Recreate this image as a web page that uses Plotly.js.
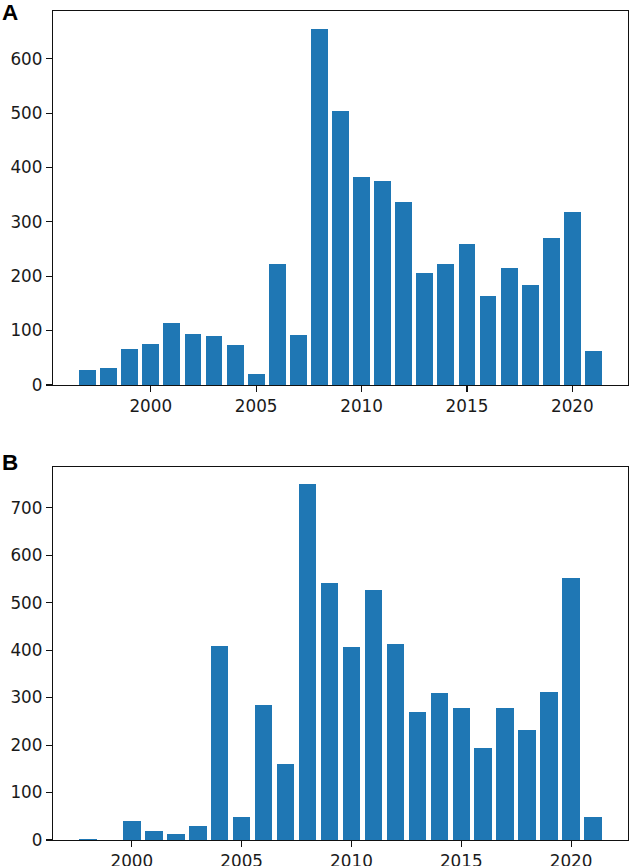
<!DOCTYPE html>
<html>
<head>
<meta charset="utf-8">
<script src="https://cdn.plot.ly/plotly-3.0.1.min.js"></script>
<style>
html,body{margin:0;padding:0;background:#fff;}
#chart{width:629px;height:866px;}
</style>
</head>
<body>
<div id="chart"></div>
<script>
// Panel A
const yearsA = [1997,1998,1999,2000,2001,2002,2003,2004,2005,2006,2007,2008,2009,2010,2011,2012,2013,2014,2015,2016,2017,2018,2019,2020,2021];
const valuesA = [28,32,66,75,114,93,90,74,20,222,92,655,504,383,375,336,206,222,260,164,216,183,271,318,62];
// Panel B
const yearsB = [1998,1999,2000,2001,2002,2003,2004,2005,2006,2007,2008,2009,2010,2011,2012,2013,2014,2015,2016,2017,2018,2019,2020,2021];
const valuesB = [2,0,40,18,12,30,408,48,284,161,749,541,407,526,412,270,309,279,193,278,231,311,552,49];
const xTicks = [2000,2005,2010,2015,2020];
const panelLabels = ["A","B"];

const barColor = '#1f77b4';
const tickFont = {family: 'DejaVu Sans', size: 16.8, color: '#1a1a1a'};

function xRange(yrs){
  const lo = Math.min(...yrs) - 0.4, hi = Math.max(...yrs) + 0.4;
  const m = (hi - lo) * 0.05;
  return [lo - m, hi + m];
}
function yRange(vals){ return [0, Math.max(...vals) * 1.05]; }

const axisCommon = {
  showgrid: false, zeroline: false, showline: true, mirror: true,
  linecolor: '#111', linewidth: 1.2, ticks: 'outside', ticklen: 6, tickwidth: 1.1,
  tickcolor: '#111', tickfont: tickFont
};

const data = [
  {type: 'bar', x: yearsA, y: valuesA, width: 0.8, marker: {color: barColor, line: {width: 0}}, xaxis: 'x', yaxis: 'y', hoverinfo: 'x+y'},
  {type: 'bar', x: yearsB, y: valuesB, width: 0.8, marker: {color: barColor, line: {width: 0}}, xaxis: 'x2', yaxis: 'y2', hoverinfo: 'x+y'}
];

const W = 575;
const layout = {
  width: 629, height: 866,
  margin: {l: 53, r: 1, t: 11, b: 26},
  paper_bgcolor: '#fff', plot_bgcolor: '#fff',
  showlegend: false,
  bargap: 0,
  xaxis: Object.assign({}, axisCommon, {domain: [0, 1], range: xRange(yearsA), tickvals: xTicks, anchor: 'y'}),
  yaxis: Object.assign({}, axisCommon, {domain: [0.5489, 1], range: yRange(valuesA), dtick: 100, anchor: 'x'}),
  xaxis2: Object.assign({}, axisCommon, {domain: [0, 1], range: xRange(yearsB), tickvals: xTicks, anchor: 'y2'}),
  yaxis2: Object.assign({}, axisCommon, {domain: [0, 0.4503], range: yRange(valuesB), dtick: 100, anchor: 'x2'}),
  annotations: [
    {text: '<b>' + panelLabels[0] + '</b>', xref: 'paper', yref: 'paper', x: -53 / W, y: (840 + 2) / 829, xanchor: 'left', yanchor: 'top', showarrow: false, font: {family: 'Liberation Sans', size: 22.5, color: '#000'}},
    {text: '<b>' + panelLabels[1] + '</b>', xref: 'paper', yref: 'paper', x: -53 / W, y: (840 - 448) / 829, xanchor: 'left', yanchor: 'top', showarrow: false, font: {family: 'Liberation Sans', size: 22.5, color: '#000'}}
  ]
};

Plotly.newPlot('chart', data, layout, {displayModeBar: false, staticPlot: true});
</script>
</body>
</html>
